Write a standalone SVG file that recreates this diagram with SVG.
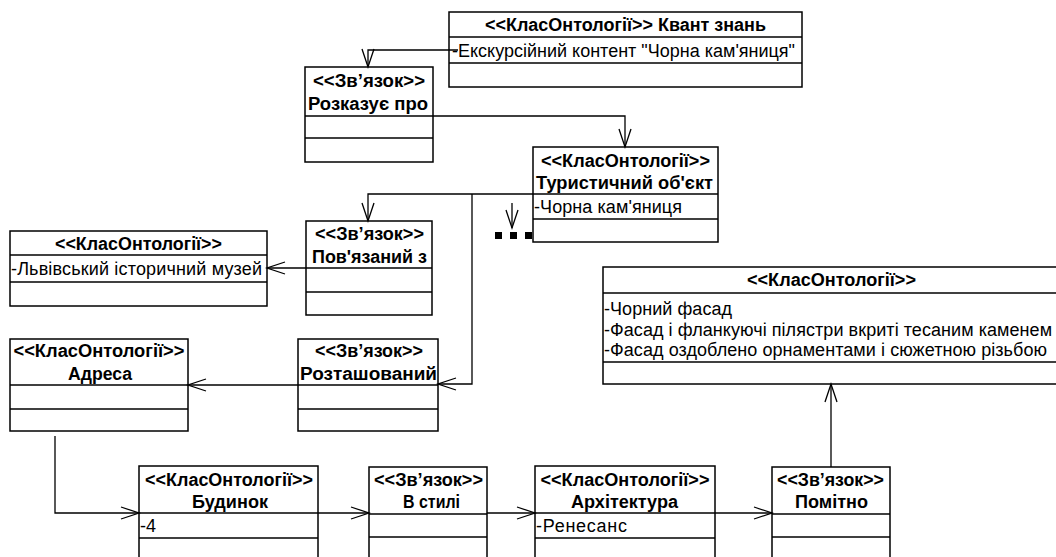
<svg xmlns="http://www.w3.org/2000/svg" width="1056" height="557" viewBox="0 0 1056 557">
  <style>
    .box { fill: #fff; stroke: #000; stroke-width: 1.5; }
    .sep { stroke: #000; stroke-width: 1.5; }
    .conn { fill: none; stroke: #000; stroke-width: 1.3; }
    .t { font-family: "Liberation Sans", Arial, sans-serif; font-size: 18px; fill: #000; }
    .b { font-weight: bold; }
    .c { text-anchor: middle; }
  </style>
  <defs>
    <marker id="open" markerWidth="20" markerHeight="14" refX="18" refY="6" orient="auto" markerUnits="userSpaceOnUse" viewBox="0 0 20 14" style="overflow:visible">
      <path d="M0,0 L18,6 L0,12" fill="none" stroke="#000" stroke-width="1.3"/>
    </marker>
  </defs>
  <rect width="1056" height="557" fill="#fff"/>

  <!-- class boxes: header, attributes, operations -->
  <g id="kvant-znan">
    <rect class="box" x="449" y="12" width="353" height="75"/>
    <line class="sep" x1="449" y1="37" x2="802" y2="37"/>
    <line class="sep" x1="449" y1="63" x2="802" y2="63"/>
    <text class="t b c" x="625.5" y="31" textLength="281" lengthAdjust="spacingAndGlyphs">&lt;&lt;КласОнтології&gt;&gt; Квант знань</text>
    <text class="t" x="452" y="57" textLength="343" lengthAdjust="spacing">-Екскурсійний контент "Чорна кам'яниця"</text>
  </g>

  <g id="rozkazuie-pro">
    <rect class="box" x="305" y="67" width="128" height="95"/>
    <line class="sep" x1="305" y1="116" x2="433" y2="116"/>
    <line class="sep" x1="305" y1="138" x2="433" y2="138"/>
    <text class="t b c" x="369" y="87" textLength="112" lengthAdjust="spacingAndGlyphs">&lt;&lt;Зв’язок&gt;&gt;</text>
    <text class="t b c" x="368" y="110" textLength="120" lengthAdjust="spacingAndGlyphs">Розказує про</text>
  </g>

  <g id="turystychnyi-obiekt">
    <rect class="box" x="533" y="147" width="185" height="95"/>
    <line class="sep" x1="533" y1="194" x2="718" y2="194"/>
    <line class="sep" x1="533" y1="219" x2="718" y2="219"/>
    <text class="t b c" x="625.5" y="167" textLength="169" lengthAdjust="spacingAndGlyphs">&lt;&lt;КласОнтології&gt;&gt;</text>
    <text class="t b c" x="624.5" y="189" textLength="177" lengthAdjust="spacingAndGlyphs">Туристичний об'єкт</text>
    <text class="t" x="534" y="213" textLength="148" lengthAdjust="spacing">-Чорна кам'яниця</text>
  </g>

  <g id="poviazanyi-z">
    <rect class="box" x="306" y="221" width="126" height="94"/>
    <line class="sep" x1="306" y1="268" x2="432" y2="268"/>
    <line class="sep" x1="306" y1="292" x2="432" y2="292"/>
    <text class="t b c" x="369.5" y="240" textLength="109" lengthAdjust="spacingAndGlyphs">&lt;&lt;Зв’язок&gt;&gt;</text>
    <text class="t b c" x="369.5" y="263" textLength="115" lengthAdjust="spacingAndGlyphs">Пов'язаний з</text>
  </g>

  <g id="lvivskyi-muzei">
    <rect class="box" x="10" y="231" width="257" height="75"/>
    <line class="sep" x1="10" y1="255" x2="267" y2="255"/>
    <line class="sep" x1="10" y1="282" x2="267" y2="282"/>
    <text class="t b c" x="138.5" y="250" textLength="167" lengthAdjust="spacingAndGlyphs">&lt;&lt;КласОнтології&gt;&gt;</text>
    <text class="t" x="11" y="275" textLength="251" lengthAdjust="spacing">-Львівський історичний музей</text>
  </g>

  <g id="adresa">
    <rect class="box" x="10" y="339" width="178" height="92"/>
    <line class="sep" x1="10" y1="385" x2="188" y2="385"/>
    <line class="sep" x1="10" y1="409" x2="188" y2="409"/>
    <text class="t b c" x="99" y="357" textLength="171" lengthAdjust="spacingAndGlyphs">&lt;&lt;КласОнтології&gt;&gt;</text>
    <text class="t b c" x="100" y="380" textLength="64" lengthAdjust="spacingAndGlyphs">Адреса</text>
  </g>

  <g id="roztashovanyi">
    <rect class="box" x="298" y="339" width="140" height="92"/>
    <line class="sep" x1="298" y1="385" x2="438" y2="385"/>
    <line class="sep" x1="298" y1="409" x2="438" y2="409"/>
    <text class="t b c" x="369" y="357" textLength="108" lengthAdjust="spacingAndGlyphs">&lt;&lt;Зв’язок&gt;&gt;</text>
    <text class="t b c" x="368.5" y="380" textLength="137" lengthAdjust="spacingAndGlyphs">Розташований</text>
  </g>

  <g id="budynok">
    <rect class="box" x="139" y="466" width="179" height="100"/>
    <line class="sep" x1="139" y1="513" x2="318" y2="513"/>
    <line class="sep" x1="139" y1="538" x2="318" y2="538"/>
    <text class="t b c" x="229" y="486" textLength="168" lengthAdjust="spacingAndGlyphs">&lt;&lt;КласОнтології&gt;&gt;</text>
    <text class="t b c" x="230" y="508" textLength="76" lengthAdjust="spacingAndGlyphs">Будинок</text>
    <text class="t" x="140" y="532">-4</text>
  </g>

  <g id="v-styli">
    <rect class="box" x="369" y="467" width="118" height="100"/>
    <line class="sep" x1="369" y1="514" x2="487" y2="514"/>
    <line class="sep" x1="369" y1="537" x2="487" y2="537"/>
    <text class="t b c" x="428.5" y="486" textLength="109" lengthAdjust="spacingAndGlyphs">&lt;&lt;Зв’язок&gt;&gt;</text>
    <text class="t b c" x="431.5" y="508" textLength="57" lengthAdjust="spacingAndGlyphs">В стилі</text>
  </g>

  <g id="arkhitektura">
    <rect class="box" x="535" y="466" width="180" height="100"/>
    <line class="sep" x1="535" y1="513" x2="715" y2="513"/>
    <line class="sep" x1="535" y1="538" x2="715" y2="538"/>
    <text class="t b c" x="625" y="486" textLength="169" lengthAdjust="spacingAndGlyphs">&lt;&lt;КласОнтології&gt;&gt;</text>
    <text class="t b c" x="624.5" y="508" textLength="107" lengthAdjust="spacingAndGlyphs">Архітектура</text>
    <text class="t" x="536" y="532" textLength="91" lengthAdjust="spacing">-Ренесанс</text>
  </g>

  <g id="pomitno">
    <rect class="box" x="772" y="467" width="118" height="100"/>
    <line class="sep" x1="772" y1="514" x2="890" y2="514"/>
    <line class="sep" x1="772" y1="537" x2="890" y2="537"/>
    <text class="t b c" x="830.5" y="486" textLength="107" lengthAdjust="spacingAndGlyphs">&lt;&lt;Зв’язок&gt;&gt;</text>
    <text class="t b c" x="831.5" y="508" textLength="73" lengthAdjust="spacingAndGlyphs">Помітно</text>
  </g>

  <g id="fasad">
    <rect class="box" x="603" y="267" width="457" height="117"/>
    <line class="sep" x1="603" y1="293" x2="1060" y2="293"/>
    <line class="sep" x1="603" y1="362" x2="1060" y2="362"/>
    <text class="t b c" x="831.5" y="286" textLength="169" lengthAdjust="spacingAndGlyphs">&lt;&lt;КласОнтології&gt;&gt;</text>
    <text class="t" x="604" y="315" textLength="128" lengthAdjust="spacing">-Чорний фасад</text>
    <text class="t" x="604" y="336" textLength="448" lengthAdjust="spacing">-Фасад і фланкуючі пілястри вкриті тесаним каменем</text>
    <text class="t" x="604" y="356" textLength="443" lengthAdjust="spacing">-Фасад оздоблено орнаментами і сюжетною різьбою</text>
  </g>

  <!-- associations -->
  <g id="connectors">
    <path class="conn" d="M458,50 H368 V67" marker-end="url(#open)"/>
    <path class="conn" d="M433,116 H625 V147" marker-end="url(#open)"/>
    <path class="conn" d="M533,194 H368 V221" marker-end="url(#open)"/>
    <path class="conn" d="M472,194 V384 H438" marker-end="url(#open)"/>
    <path class="conn" d="M512,203 V228" marker-end="url(#open)"/>
    <path class="conn" d="M306,268 H267" marker-end="url(#open)"/>
    <path class="conn" d="M298,385 H188" marker-end="url(#open)"/>
    <path class="conn" d="M55,436 V513 H139" marker-end="url(#open)"/>
    <path class="conn" d="M318,513 H369" marker-end="url(#open)"/>
    <path class="conn" d="M487,513 H535" marker-end="url(#open)"/>
    <path class="conn" d="M715,513 H772" marker-end="url(#open)"/>
    <path class="conn" d="M831,467 V384" marker-end="url(#open)"/>
    <!-- continuation dots -->
    <rect x="495" y="232" width="7" height="7" fill="#000"/>
    <rect x="510" y="232" width="7" height="7" fill="#000"/>
    <rect x="525" y="232" width="7" height="7" fill="#000"/>
  </g>
</svg>
